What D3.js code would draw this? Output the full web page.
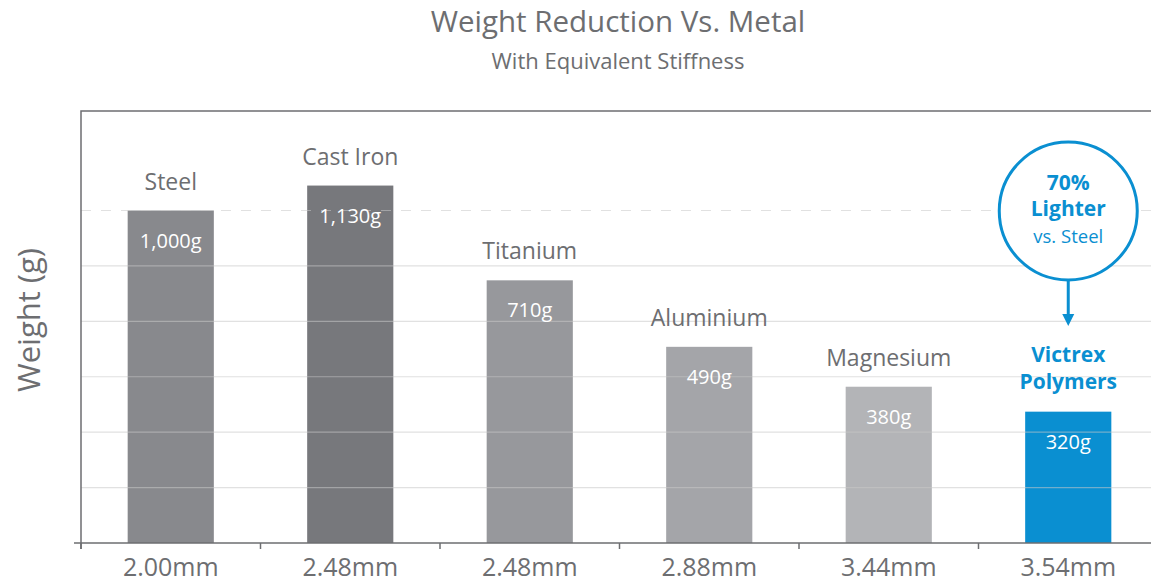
<!DOCTYPE html>
<html lang="en">
<head>
    <meta charset="UTF-8">
    <title>Weight Reduction Vs. Metal</title>
    <script src="https://d3js.org/d3.v7.min.js"></script>
    <style>
        body {
            margin: 0;
            padding: 0;
            background: #fff;
            font-family: "Open Sans", "Noto Sans", sans-serif;
        }
        .title { font-size: 29.5px; fill: #6d6e71; text-anchor: middle; }
        .subtitle { font-size: 22px; fill: #6d6e71; text-anchor: middle; }
        .cat-label { font-size: 23px; fill: #6d6e71; text-anchor: middle; }
        .val-label { font-size: 20px; fill: #fff; text-anchor: middle; }
        .tick-label { font-size: 25px; fill: #6d6e71; text-anchor: middle; }
        .axis-title { font-size: 31px; fill: #6d6e71; text-anchor: middle; }
        .grid { stroke: rgba(200, 200, 200, 0.55); stroke-width: 1.2; }
        .frame { stroke: #6d6e71; stroke-width: 1.5; fill: none; }
        .blue-text { fill: #0a8fd1; font-weight: bold; font-size: 21px; text-anchor: middle; }
    </style>
</head>
<body>
    <svg id="chart" width="1151" height="584"></svg>

    <script>
        const materials = ['Steel', 'Cast Iron', 'Titanium', 'Aluminium', 'Magnesium', 'Victrex Polymers'];
        const weights = [1000, 1130, 710, 490, 380, 320];      // labelled weight (g)
        // bar heights as drawn in the source graphic (it is not to scale with the labels)
        const drawnHeights = [1000, 1075, 790, 590, 470, 395];
        const thickness = ['2.00mm', '2.48mm', '2.48mm', '2.88mm', '3.44mm', '3.54mm'];
        const barColors = ['#88898d', '#77787c', '#97989c', '#a4a5a9', '#b3b4b7', '#0a8fd1'];

        const margin = { top: 111, left: 81, bottom: 543 };
        const svg = d3.select('#chart');

        const x = d3.scaleBand()
            .domain(materials)
            .range([margin.left, margin.left + 6 * 179.5])
            .paddingInner(0.52)
            .paddingOuter(0.26);

        const y = d3.scaleLinear()
            .domain([0, 1000])
            .range([margin.bottom, 210.5]);

        // titles
        svg.append('text').attr('class', 'title').attr('x', 618).attr('y', 32)
            .text('Weight Reduction Vs. Metal');
        svg.append('text').attr('class', 'subtitle').attr('x', 618).attr('y', 69)
            .text('With Equivalent Stiffness');

        // y axis title
        svg.append('text').attr('class', 'axis-title')
            .attr('transform', 'translate(40,320) rotate(-90)')
            .text('Weight (g)');

        // bars
        const data = materials.map((m, i) => ({ name: m, weight: weights[i], h: drawnHeights[i], color: barColors[i], mm: thickness[i] }));

        svg.append('g').selectAll('rect')
            .data(data)
            .join('rect')
            .attr('x', d => x(d.name))
            .attr('width', x.bandwidth())
            .attr('y', d => y(d.h))
            .attr('height', d => y(0) - y(d.h))
            .attr('fill', d => d.color);

        // gridlines drawn over the bars, top one dashed
        const gridVals = d3.range(1, 7).map(i => i * 1000 / 6);
        svg.append('g').selectAll('line')
            .data(gridVals)
            .join('line')
            .attr('class', 'grid')
            .attr('x1', margin.left).attr('x2', 1151)
            .attr('y1', d => y(d)).attr('y2', d => y(d))
            .attr('stroke-dasharray', (d, i) => i === 5 ? '10,10' : null);

        // frame: left axis, top line, baseline
        svg.append('path').attr('class', 'frame')
            .attr('d', `M1151,${margin.top}H${margin.left}V${margin.bottom + 6}`);
        svg.append('path').attr('class', 'frame')
            .attr('d', `M${margin.left - 7},${margin.bottom}H1151`);

        // ticks between bands
        const step = x.step();
        const tickXs = d3.range(0, 7).map(i => margin.left + i * step);
        svg.append('g').selectAll('line')
            .data(tickXs)
            .join('line')
            .attr('class', 'frame')
            .attr('x1', d => d).attr('x2', d => d)
            .attr('y1', margin.bottom).attr('y2', margin.bottom + 6);

        // thickness labels
        svg.append('g').selectAll('text')
            .data(data)
            .join('text')
            .attr('class', 'tick-label')
            .attr('x', d => x(d.name) + x.bandwidth() / 2)
            .attr('y', 576)
            .text(d => d.mm);

        // value labels inside bars
        svg.append('g').selectAll('text')
            .data(data)
            .join('text')
            .attr('class', 'val-label')
            .attr('x', d => x(d.name) + x.bandwidth() / 2)
            .attr('y', d => y(d.h) + 37)
            .text(d => d3.format(',')(d.weight) + 'g');

        // category labels above bars
        svg.append('g').selectAll('text')
            .data(data.slice(0, 5))
            .join('text')
            .attr('class', 'cat-label')
            .attr('x', d => x(d.name) + x.bandwidth() / 2)
            .attr('y', d => y(d.h) - 21)
            .text(d => d.name);

        const last = data[5];
        const cx = x(last.name) + x.bandwidth() / 2;
        const victrex = svg.append('text').attr('class', 'blue-text')
            .attr('x', cx).attr('y', y(last.h) - 50);
        victrex.append('tspan').attr('x', cx).text('Victrex');
        victrex.append('tspan').attr('x', cx).attr('dy', 27).text('Polymers');

        // callout circle with arrow
        const cy = 211, r = 69;
        svg.append('circle')
            .attr('cx', cx).attr('cy', cy).attr('r', r)
            .attr('fill', '#fff').attr('stroke', '#0a8fd1').attr('stroke-width', 3);
        svg.append('text').attr('class', 'blue-text').attr('x', cx).attr('y', 190).text('70%');
        svg.append('text').attr('class', 'blue-text').attr('x', cx).attr('y', 216).text('Lighter');
        svg.append('text').attr('class', 'blue-text').attr('x', cx).attr('y', 243)
            .style('font-weight', 'normal').style('font-size', '18.5px').text('vs. Steel');

        svg.append('line')
            .attr('x1', cx).attr('x2', cx)
            .attr('y1', cy + r).attr('y2', 316)
            .attr('stroke', '#0a8fd1').attr('stroke-width', 3);
        svg.append('path')
            .attr('d', `M${cx - 6},314L${cx + 6},314L${cx},326Z`)
            .attr('fill', '#0a8fd1');
    </script>
</body>
</html>
